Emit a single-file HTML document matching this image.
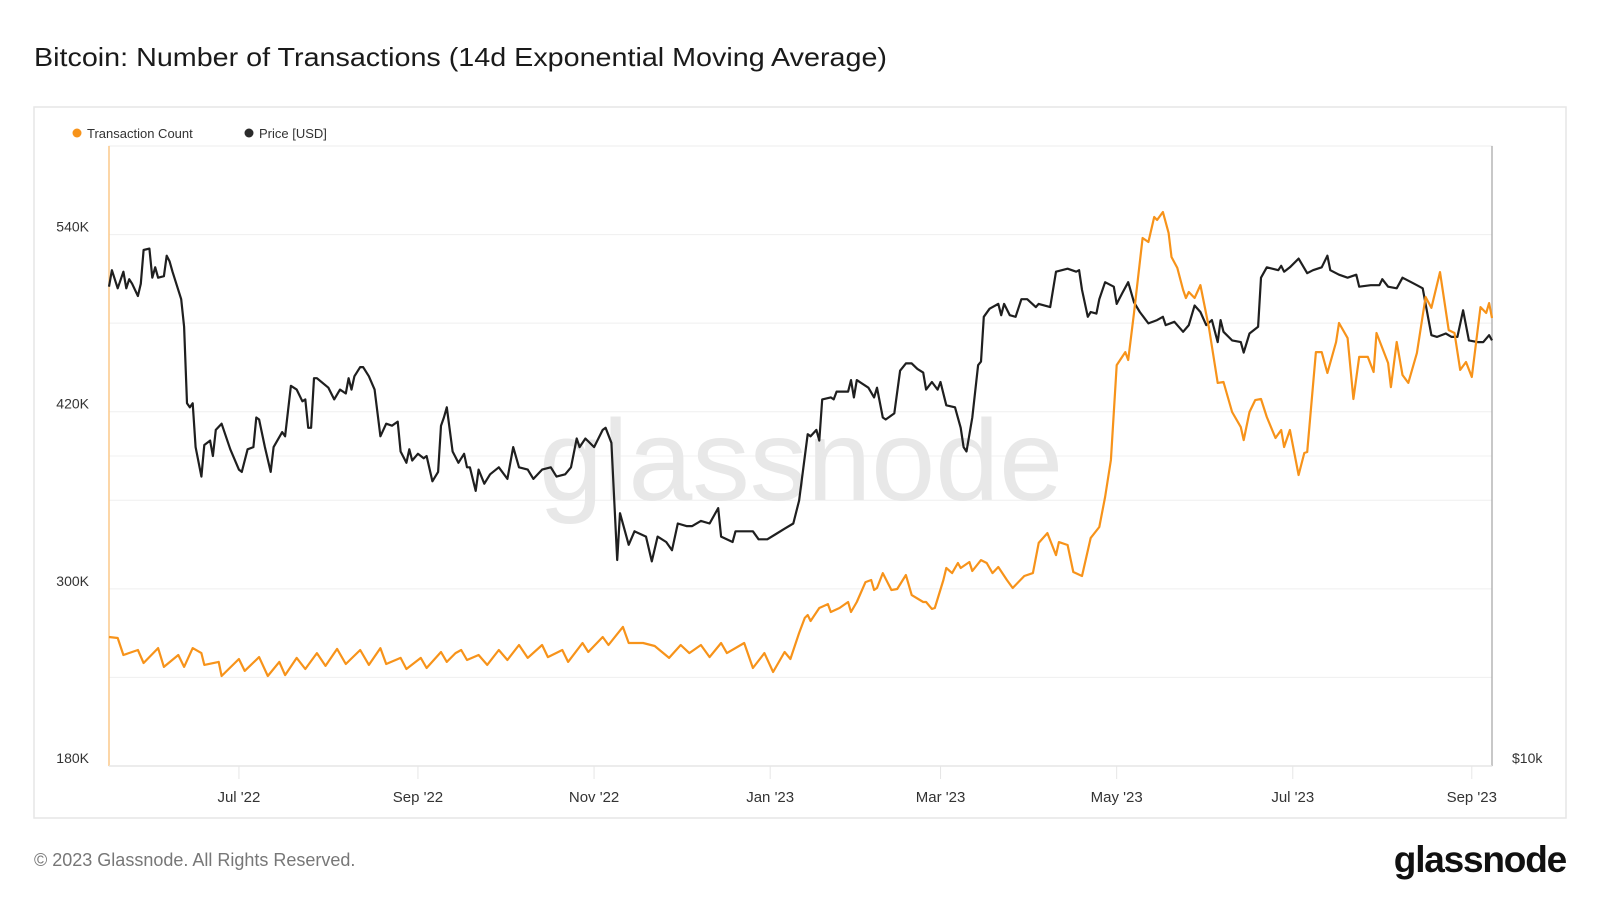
<!DOCTYPE html>
<html><head><meta charset="utf-8"><title>Bitcoin: Number of Transactions</title>
<style>
html,body{margin:0;padding:0;background:#fff;}
svg{display:block;font-family:"Liberation Sans",sans-serif;}
</style></head>
<body>
<svg id="chart" width="1600" height="900" viewBox="0 0 1600 900">
  <text x="34" y="66" font-size="26" fill="#1a1a1a" textLength="853" lengthAdjust="spacingAndGlyphs">Bitcoin: Number of Transactions (14d Exponential Moving Average)</text>
  <rect x="34" y="107" width="1532" height="711" fill="#fff" stroke="#e6e6e6" stroke-width="1.5"/>
  <g>
    <g>
      <circle cx="77" cy="133" r="4.5" fill="#f7931a"/>
      <text x="87" y="138" font-size="13" fill="#333">Transaction Count</text>
    </g>
    <g>
      <circle cx="249" cy="133" r="4.5" fill="#2b2b2b"/>
      <text x="259" y="138" font-size="13" fill="#333">Price [USD]</text>
    </g>
  </g>
  <g id="grid"></g>
  <text x="801" y="500" font-size="115" fill="#e8e8e8" text-anchor="middle">glassnode</text>
  <g id="axes"></g>
  <g id="series"></g>
  <text x="34" y="866" font-size="18" fill="#777">© 2023 Glassnode. All Rights Reserved.</text>
  <text x="1566" y="872" font-size="37" fill="#111" text-anchor="end" font-weight="bold" letter-spacing="-1.2">glassnode</text>
</svg>
<script>
// x-axis: days since 2022-05-17
const xTickLabels = ["Jul '22","Sep '22","Nov '22","Jan '23","Mar '23","May '23","Jul '23","Sep '23"];
const xTickDays = [45,107,168,229,288,349,410,472];
const yTickValues = [180,240,300,360,420,480,540];
const yTickLabels = ["180K","","300K","","420K","","540K"];

const txDays = [0,3,5,10,12,17,19,24,26,29,32,33,38,39,45,47,52,55,59,61,65,68,72,75,79,82,87,90,94,96,101,103,108,110,115,117,120,122,124,128,131,135,138,142,145,150,152,157,159,164,166,171,173,178,180,185,189,194,198,201,205,208,212,214,220,223,227,230,234,236,239,241,242,243,246,249,250,253,256,257,259,262,264,265,266,268,271,273,276,278,282,283,285,286,289,290,292,294,295,298,299,302,304,306,308,311,313,317,320,322,325,328,329,332,334,337,340,343,345,347,349,352,353,355,358,360,362,363,365,367,368,370,372,373,374,376,378,381,384,386,389,392,393,395,397,399,401,404,406,407,409,412,414,415,418,420,422,425,426,429,431,433,436,438,439,443,444,446,448,450,453,456,458,461,464,466,468,470,472,475,477,478,479];
const txValues = [267.4,266.7,255.2,258.6,249.8,259.9,247.1,255.2,247.1,259.9,256.5,248.5,250.5,241,252.5,244.4,253.8,241,250.5,241.6,253.2,245.7,256.5,247.8,259.3,249.1,258.6,248.5,259.9,249.1,253.2,245.7,253.2,246.4,257.2,250.5,256.5,258.6,251.8,255.2,248.5,258.6,251.8,262,253.2,262,253.8,258.6,250.5,263.3,257.2,267.4,262,274.2,263.3,263.3,261.3,253.2,262,256.5,262,253.8,263.3,256.5,263.3,246.4,256.5,243.7,257.2,252.5,270.1,280.3,282.3,278.2,287.0,289.7,284.3,287.0,291.1,284.3,291.1,304.6,306.0,299.2,300.6,310.7,299.2,299.9,309.4,295.8,291.1,291.1,286.4,287.0,306.0,314.1,310.7,317.5,314.1,318.2,312.1,319.5,317.5,310.7,314.8,306.0,300.6,308.7,310.7,331.1,337.8,322.9,331.7,329.7,311.4,308.7,334.5,341.9,362.2,387.3,451.6,460.4,455.0,486.9,537.7,535.0,551.9,549.9,555.3,541.1,524.8,517.4,502.5,497.0,501.1,497.0,505.8,476.7,439.5,440.1,419.8,409.6,400.8,419.8,427.9,428.6,416.4,402.2,407.6,396.1,407.6,377.1,392.0,392.7,460.4,460.4,446.2,467.2,480.1,469.9,428.6,457.1,457.1,446.9,473.3,453.0,436.7,467.2,444.9,439.5,459.8,497.7,490.3,514.6,475.3,473.3,448.3,453.7,443.5,490.9,486.9,493.6,483.5];

const priceDays = [0,1,3,5,6,7,8,10,11,12,14,15,16,17,19,20,21,22,25,26,27,28,29,30,32,33,35,36,37,39,42,45,46,48,50,51,52,54,56,57,60,61,63,65,67,68,69,70,71,72,76,78,80,82,83,84,85,87,88,90,92,94,96,98,100,101,103,104,105,107,109,110,112,114,115,116,117,119,121,123,124,125,127,128,130,132,135,138,140,142,145,147,150,153,155,158,160,162,163,165,168,171,172,174,176,177,180,182,186,188,190,193,195,197,200,202,205,208,211,212,216,217,220,223,225,228,231,234,237,239,242,243,245,246,247,250,251,252,256,257,258,259,263,265,266,268,269,272,274,276,278,280,282,283,285,287,288,290,293,295,296,297,299,301,302,303,305,308,309,310,312,314,316,318,321,322,326,328,330,332,335,336,337,339,340,342,343,345,348,349,351,353,355,357,360,363,365,366,369,372,374,376,378,380,382,384,385,386,389,392,393,395,398,399,401,405,406,407,409,412,415,417,420,422,423,426,429,432,433,437,440,441,443,446,448,451,453,455,458,460,463,465,467,469,471,474,476,478,479];
const priceValues = [29.2,30.3,29.1,30.2,29.1,29.7,29.4,28.6,29.4,31.7,31.8,29.8,30.5,29.8,29.9,31.3,30.9,30.2,28.4,26.7,22.5,22.3,22.5,20.4,19.1,20.5,20.7,20.0,21.2,21.5,20.3,19.4,19.3,20.3,20.4,21.8,21.7,20.4,19.3,20.4,21.1,20.9,23.4,23.2,22.6,22.7,21.3,21.3,23.8,23.8,23.3,22.7,23.2,23.0,23.8,23.2,23.9,24.4,24.4,23.9,23.2,20.9,21.5,21.4,21.6,20.2,19.7,20.3,19.8,20.1,19.9,20.0,18.9,19.3,21.4,21.8,22.3,20.2,19.7,20.1,19.5,19.5,18.5,19.4,18.8,19.2,19.5,19.0,20.4,19.5,19.4,19.0,19.4,19.5,19.1,19.2,19.5,20.8,20.4,20.8,20.4,21.2,21.3,20.6,15.85,17.6,16.4,16.9,16.7,15.8,16.7,16.5,16.2,17.2,17.1,17.1,17.3,17.2,17.8,16.7,16.5,16.9,16.9,16.9,16.6,16.6,16.8,17.0,17.2,18.1,21.0,20.9,21.2,20.7,22.7,22.8,22.7,23.1,23.1,23.7,22.8,23.7,23.3,22.8,23.3,21.8,21.7,22.0,24.2,24.6,24.6,24.3,24.1,23.2,23.6,23.2,23.6,22.4,22.3,21.3,20.4,20.2,21.8,24.5,24.7,27.3,27.8,28.1,27.4,28.1,27.4,27.3,28.4,28.4,27.9,28.1,27.9,30.2,30.3,30.4,30.2,30.3,29.0,27.3,27.6,27.5,28.4,29.5,29.2,28.1,28.8,29.5,28.2,27.6,26.9,27.1,27.3,26.8,27.0,26.4,26.8,28.0,27.6,26.8,27.1,25.8,27.1,26.4,25.9,25.8,25.2,26.3,26.7,29.8,30.5,30.3,30.6,30.2,30.5,31.1,30.1,30.3,30.5,31.3,30.3,30.0,29.8,30.0,29.2,29.3,29.3,29.7,29.2,29.1,29.8,29.5,29.3,29.1,26.2,26.1,26.3,26.1,26.1,27.7,25.9,25.8,25.8,26.2,25.9];

const PL=109, PR=1492, PT=146, PB=766;
const DAY0=0, DAY1=479;
const TXMIN=180, TXMAX=600;
const PMIN=10, PMAX=40;
function xs(d){return PL+(d-DAY0)/(DAY1-DAY0)*(PR-PL);}
function yTx(v){return PB-(v-TXMIN)/(TXMAX-TXMIN)*(PB-PT);}
function yPrice(p){return PB-Math.log(p/PMIN)/Math.log(PMAX/PMIN)*(PB-PT);}
const NS="http://www.w3.org/2000/svg";
function mk(tag,attrs,parent){const e=document.createElementNS(NS,tag);for(const k in attrs)e.setAttribute(k,attrs[k]);parent.appendChild(e);return e;}
const grid=document.getElementById('grid'), axes=document.getElementById('axes'), series=document.getElementById('series');

mk('rect',{x:PL,y:PT,width:PR-PL,height:PB-PT,fill:'none',stroke:'#ececec','stroke-width':1},grid);
yTickValues.forEach((v,i)=>{
  const y=yTx(v);
  const l=mk('line',{x1:PL,x2:PR,y1:y,y2:y,stroke:'#efefef','stroke-width':1},grid);
  
  
  if(yTickLabels[i]){
    const t=mk('text',{x:89,y:y-3,'font-size':14,fill:'#333','text-anchor':'end'},axes);
    t.textContent=yTickLabels[i];
    
    
  }
});
{const y=yPrice(20);const l=mk('line',{x1:PL,x2:PR,y1:y,y2:y,stroke:'#f2f2f2','stroke-width':1},grid);

}

xTickDays.forEach((d,i)=>{
  const x=xs(d);
  const tk=mk('line',{x1:x,x2:x,y1:PB,y2:PB+13,stroke:'#e6e6e6','stroke-width':1},axes);
  
  
  const t=mk('text',{x:x,y:802,'font-size':15,fill:'#333','text-anchor':'middle'},axes);
  t.textContent=xTickLabels[i];
  
  
});
const la=mk('line',{x1:PL,x2:PL,y1:PT,y2:PB,stroke:'#fbc98a','stroke-width':1.5},axes);


const ra=mk('line',{x1:PR,x2:PR,y1:PT,y2:PB,stroke:'#b5b5b5','stroke-width':1.5},axes);


const ba=mk('line',{x1:PL,x2:PR,y1:PB,y2:PB,stroke:'#e6e6e6','stroke-width':1.5},axes);


const pl=mk('text',{x:1512,y:763,'font-size':14,fill:'#333'},axes);
pl.textContent='$10k';



const dPrice=priceDays.map((d,i)=>(i?'L':'M')+xs(d).toFixed(1)+','+yPrice(priceValues[i]).toFixed(1)).join('');
const pp=mk('path',{d:dPrice,fill:'none',stroke:'#1f1f1f','stroke-width':2.2,'stroke-linejoin':'round'},series);


const dTx=txDays.map((d,i)=>(i?'L':'M')+xs(d).toFixed(1)+','+yTx(txValues[i]).toFixed(1)).join('');
const tp=mk('path',{d:dTx,fill:'none',stroke:'#f7931a','stroke-width':2.2,'stroke-linejoin':'round'},series);


</script>
</body></html>
